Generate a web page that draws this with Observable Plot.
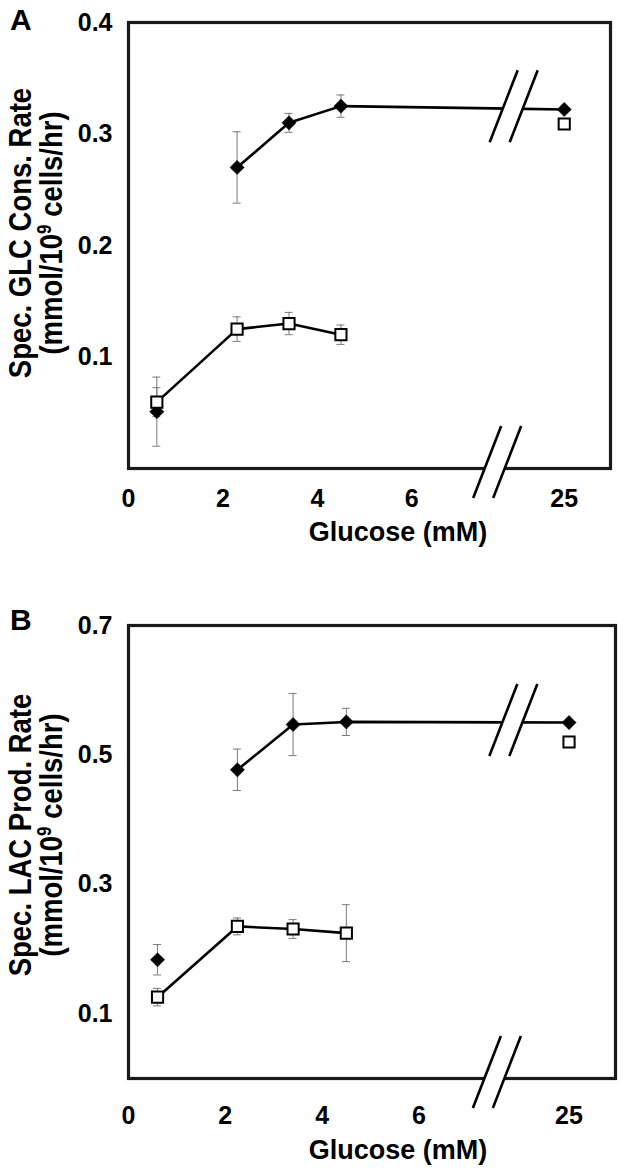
<!DOCTYPE html>
<html><head><meta charset="utf-8">
<script src="https://cdn.jsdelivr.net/npm/d3@7"></script>
<script src="https://cdn.jsdelivr.net/npm/@observablehq/plot@0.6"></script>
<style>
body{margin:0;background:#fff;}
#chart{position:relative;width:624px;height:1171px;font-family:Arial,"Liberation Sans",sans-serif;}
#chart svg{position:absolute;left:0;overflow:visible;}
</style></head><body><div id="chart"></div>
<script>
// ---- data ----
const glucoseA = [0.6, 2.3, 3.4, 4.5, 25];
const glucoseB = [0.6, 2.25, 3.4, 4.5, 25];
const xTicks = [0, 2, 4, 6, 25];
const glcFilled = [0.051, 0.270, 0.310, 0.325, 0.322];
const glcFilledErr = [0.031, 0.032, 0.0085, 0.010, 0];
const glcOpen = [0.0595, 0.125, 0.130, 0.120, 0.309];
const glcOpenErr = [0.013, 0.011, 0.010, 0.0087, 0];
const lacFilled = [0.1835, 0.477, 0.547, 0.551, 0.550];
const lacFilledErr = [0.0235, 0.032, 0.048, 0.021, 0];
const lacOpen = [0.1257, 0.235, 0.231, 0.2246, 0.520];
const lacOpenErr = [0.0135, 0.013, 0.0145, 0.044, 0];
const filledLinked = [false, true, true, true, true];
const openLinked = [true, true, true, true, false];
const yTicksA = [0.1, 0.2, 0.3, 0.4];
const yTicksB = [0.1, 0.3, 0.5, 0.7];

const FONT = "Arial, 'Liberation Sans', sans-serif";

function makePanel(cfg) {
  const pos = g => g === 25 ? cfg.pos25 : g;
  const rows = (vals, errs, linked) => cfg.glucose.map((g, i) => ({g, xp: pos(g), y: vals[i], e: errs[i], linked: linked[i]}));
  const filled = rows(cfg.filled, cfg.filledErr, filledLinked);
  const open = rows(cfg.open, cfg.openErr, openLinked);
  const plotW = 624 - cfg.marginLeft - cfg.marginRight;
  const cap = 4 * cfg.xMax / plotW;
  const withErr = filled.concat(open).filter(d => d.e > 0);
  const plot = Plot.plot({
    width: 624, height: cfg.height,
    marginTop: cfg.marginTop, marginBottom: cfg.marginBottom,
    marginLeft: cfg.marginLeft, marginRight: cfg.marginRight,
    x: {domain: [0, cfg.xMax]},
    y: {domain: [0, cfg.yMax]},
    style: {fontFamily: FONT, color: "black", background: "white", overflow: "visible"},
    marks: [
      Plot.ruleX(withErr, {x: "xp", y1: d => d.y - d.e, y2: d => d.y + d.e, stroke: "#7a7a7a", strokeWidth: 1}),
      Plot.ruleY(withErr, {y: d => d.y + d.e, x1: d => d.xp - cap, x2: d => d.xp + cap, stroke: "#7a7a7a", strokeWidth: 1}),
      Plot.ruleY(withErr, {y: d => d.y - d.e, x1: d => d.xp - cap, x2: d => d.xp + cap, stroke: "#7a7a7a", strokeWidth: 1}),
      Plot.line(filled.filter(d => d.linked), {x: "xp", y: "y", stroke: "black", strokeWidth: 2.6}),
      Plot.line(open.filter(d => d.linked), {x: "xp", y: "y", stroke: "black", strokeWidth: 2.6}),
      Plot.dot(filled, {x: "xp", y: "y", symbol: "diamond2", r: 6.4, fill: "black", stroke: "black", strokeWidth: 0.5}),
      Plot.dot(open, {x: "xp", y: "y", symbol: "square", r: 6.3, fill: "white", stroke: "black", strokeWidth: 2}),
      Plot.frame({stroke: "#1a1a1a", strokeWidth: 3.2}),
      Plot.axisX({ticks: xTicks.map(pos), tickFormat: d => d === cfg.pos25 ? "25" : String(d), tickSize: 0, tickPadding: cfg.xTickPad, fontSize: 25, fontWeight: "bold", label: null}),
      Plot.axisY({ticks: cfg.yTicks, tickFormat: d3.format(".1f"), tickSize: 0, tickPadding: 16, fontSize: 25, fontWeight: "bold", label: null})
    ]
  });
  const svg = d3.select(plot);
  const sx = plot.scale("x"), sy = plot.scale("y");
  // axis breaks
  const drawBreak = (cx, cy) => {
    const hx = 14, hy = 36, s = 10;
    const g = svg.append("g");
    g.append("polygon")
      .attr("points", [[cx - s - hx, cy + hy], [cx + s - hx, cy + hy], [cx + s + hx, cy - hy], [cx - s + hx, cy - hy]].map(p => p.join(",")).join(" "))
      .attr("fill", "white");
    for (const o of [-s, s]) {
      g.append("line").attr("x1", cx + o - hx).attr("y1", cy + hy).attr("x2", cx + o + hx).attr("y2", cy - hy)
        .attr("stroke", "black").attr("stroke-width", 2.6);
    }
  };
  const a = filled[3], b = filled[4];
  const t = (cfg.breakTopX - a.xp) / (b.xp - a.xp);
  drawBreak(sx.apply(cfg.breakTopX), sy.apply(a.y + t * (b.y - a.y)) - 2);
  drawBreak(sx.apply(cfg.breakBottomX), sy.apply(0) - 6);
  // panel letter
  svg.append("text").attr("x", 10).attr("y", cfg.letterY).attr("text-anchor", "start").attr("font-size", 30)
    .attr("font-weight", "bold").attr("font-family", FONT).text(cfg.letter);
  // x label
  svg.append("text").attr("x", 398).attr("y", cfg.xLabelY).attr("text-anchor", "middle").attr("font-size", 27)
    .attr("font-weight", "bold").attr("font-family", FONT).text("Glucose (mM)");
  // y label (two lines), slightly widened like the source
  const yl = svg.append("text").attr("transform", `translate(31,${cfg.yLabelCenter}) scale(1.15,1) rotate(-90)`)
    .attr("text-anchor", "middle").attr("font-size", 27.5).attr("font-weight", "bold").attr("font-family", FONT);
  yl.append("tspan").attr("x", 0).attr("y", 0).text(cfg.yTitle);
  const l2 = yl.append("tspan").attr("x", 0).attr("y", 27);
  l2.append("tspan").text("(mmol/10");
  l2.append("tspan").attr("font-size", 17).attr("dy", -10).text("9");
  l2.append("tspan").attr("dy", 10).text(" cells/hr)");
  plot.style.top = cfg.top + "px";
  document.getElementById("chart").appendChild(plot);
}

makePanel({
  letter: "A", letterY: 30, top: 0, height: 560,
  marginTop: 22, marginBottom: 92, marginLeft: 128, marginRight: 14,
  xMax: 10.21, pos25: 9.23, yMax: 0.4, yTicks: yTicksA, xTickPad: 21,
  glucose: glucoseA, filled: glcFilled, filledErr: glcFilledErr, open: glcOpen, openErr: glcOpenErr,
  breakTopX: 8.17, breakBottomX: 7.82, xLabelY: 541, yLabelCenter: 233,
  yTitle: "Spec. GLC Cons. Rate"
});
makePanel({
  letter: "B", letterY: 70, top: 560, height: 611,
  marginTop: 65, marginBottom: 93, marginLeft: 128, marginRight: 9,
  xMax: 10.06, pos25: 9.1, yMax: 0.7, yTicks: yTicksB, xTickPad: 28,
  glucose: glucoseB, filled: lacFilled, filledErr: lacFilledErr, open: lacOpen, openErr: lacOpenErr,
  breakTopX: 7.96, breakBottomX: 7.62, xLabelY: 599, yLabelCenter: 275,
  yTitle: "Spec. LAC Prod. Rate"
});
</script></body></html>
